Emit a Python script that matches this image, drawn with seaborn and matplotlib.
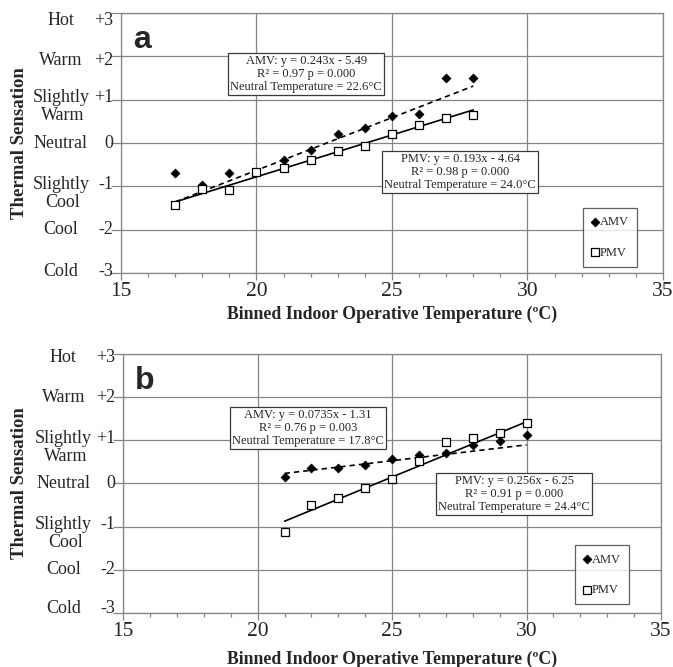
import numpy as np
import pandas as pd
import matplotlib
matplotlib.use("Agg")
import matplotlib.pyplot as plt
from matplotlib.transforms import offset_copy
from matplotlib.ticker import MultipleLocator
import seaborn as sns

# ---- data -------------------------------------------------------------
# Panel a: binned indoor operative temperature (°C) and mean votes
amv_temp_a = [17, 18, 19, 21, 22, 23, 24, 25, 26, 27, 28]
amv_a = [-0.70, -0.97, -0.70, -0.39, -0.16, 0.20, 0.35, 0.63, 0.68, 1.51, 1.51]
pmv_temp_a = [17, 18, 19, 20, 21, 22, 23, 24, 25, 26, 27, 28]
pmv_a = [-1.43, -1.07, -1.08, -0.68, -0.57, -0.39, -0.18, -0.07, 0.21, 0.42, 0.58, 0.65]

# Panel b
amv_temp_b = [21, 22, 23, 24, 25, 26, 27, 28, 29, 30]
amv_b = [0.16, 0.37, 0.35, 0.43, 0.56, 0.66, 0.70, 0.89, 0.99, 1.12]
pmv_temp_b = [21, 22, 23, 24, 25, 26, 27, 28, 29, 30]
pmv_b = [-1.13, -0.51, -0.34, -0.11, 0.10, 0.52, 0.97, 1.06, 1.16, 1.41]

# Linear fits (AMV, PMV) per panel
slope_a = [0.243, 0.193]
intercept_a = [-5.49, -4.64]
r2_a = [0.97, 0.98]
p_a = ["0.000", "0.000"]
neutral_a = [22.6, 24.0]

slope_b = [0.0735, 0.256]
intercept_b = [-1.31, -6.25]
r2_b = [0.76, 0.91]
p_b = ["0.003", "0.000"]
neutral_b = [17.8, 24.4]

series_names = ["AMV", "PMV"]

# Thermal sensation scale
scale_values = [-3, -2, -1, 0, 1, 2, 3]
scale_numbers = ["-3", "-2", "-1", "0", "+1", "+2", "+3"]
scale_words_top = ["Cold", "Cool", "Slightly", "Neutral", "Slightly", "Warm", "Hot"]
scale_words_bottom = ["", "", "Cool", "", "Warm", "", ""]

x_ticks = [15, 20, 25, 30, 35]

# ---- style ------------------------------------------------------------
sns.set_theme(style="white")
plt.rcParams["font.family"] = ["Liberation Serif", "DejaVu Serif"]
GRID = "#858585"
BOX = "#3a3a3a"

fig = plt.figure(figsize=(6.73, 6.67), dpi=100)
ax_a = fig.add_axes([0.1798, 0.5907, 0.8053, 0.3898])
ax_b = fig.add_axes([0.1832, 0.0810, 0.7990, 0.3883])


def fit_text(name, slope, intercept, r2, p, tn):
    sign = "-" if intercept < 0 else "+"
    return (f"{name}: y = {slope}x {sign} {abs(intercept):.2f}\n"
            f"R\u00b2 = {r2:.2f} p = {p}\n"
            f"Neutral Temperature = {tn:.1f}\u00b0C")


def draw_panel(ax, letter, amv_t, amv_v, pmv_t, pmv_v, slopes, intercepts,
               r2s, ps, tns, box_pos, legend_anchor, label_nudge,
               xlabel_y, ylabel_x):
    amv_df = pd.DataFrame({"temp": amv_t, "vote": amv_v})
    pmv_df = pd.DataFrame({"temp": pmv_t, "vote": pmv_v})

    # regression lines over each series' temperature range
    for df, slope, icpt, ls in [(amv_df, slopes[0], intercepts[0], (0, (3.2, 2.4))),
                                 (pmv_df, slopes[1], intercepts[1], "-")]:
        xs = np.array([df["temp"].min(), df["temp"].max()], dtype=float)
        line_df = pd.DataFrame({"temp": xs, "vote": slope * xs + icpt})
        sns.lineplot(data=line_df, x="temp", y="vote", ax=ax, color="black",
                     lw=1.2, linestyle=ls, zorder=3, legend=False)

    sns.scatterplot(data=amv_df, x="temp", y="vote", ax=ax, marker="D", s=20,
                    color="black", edgecolor="black", linewidth=0.6,
                    zorder=4, label="AMV")
    sns.scatterplot(data=pmv_df, x="temp", y="vote", ax=ax, marker="s", s=26,
                    facecolor="white", edgecolor="black", linewidth=0.9,
                    zorder=5, label="PMV")

    ax.set_xlim(15, 35)
    ax.set_ylim(-3, 3)
    ax.set_xticks(x_ticks)
    ax.xaxis.set_minor_locator(MultipleLocator(1))
    ax.set_yticks(scale_values, [""] * len(scale_values))
    ax.grid(True, which="major", color=GRID, lw=0.9)
    for sp in ax.spines.values():
        sp.set_color(GRID)
        sp.set_linewidth(0.9)
    ax.tick_params(axis="x", which="major", direction="out", length=5,
                   width=0.9, color=GRID, labelsize=15.5, pad=1.5, bottom=True)
    ax.tick_params(axis="x", which="minor", direction="out", length=3,
                   width=0.9, color=GRID, bottom=True)
    ax.tick_params(axis="y", which="major", direction="out", length=7,
                   width=0.9, color=GRID, left=True)

    # numeric scale plus sensation words (two-line words sit a little higher)
    for v, num, w1, w2, dy in zip(scale_values, scale_numbers, scale_words_top,
                                  scale_words_bottom, label_nudge):
        lift = 2 if w2 else 0
        tr_num = offset_copy(ax.get_yaxis_transform(), fig=fig, x=-8, y=dy + lift, units="dots")
        tr_top = offset_copy(ax.get_yaxis_transform(), fig=fig, x=-60, y=dy + lift, units="dots")
        tr_bot = offset_copy(ax.get_yaxis_transform(), fig=fig, x=-58, y=dy - 16, units="dots")
        ax.text(0, v, num, transform=tr_num, ha="right", va="center", fontsize=13)
        ax.text(0, v, w1, transform=tr_top, ha="center", va="center", fontsize=13)
        if w2:
            ax.text(0, v, w2, transform=tr_bot, ha="center", va="center", fontsize=13)

    ax.set_xlabel("Binned Indoor Operative Temperature (\u00baC)",
                  fontsize=12.8, fontweight="bold")
    ax.xaxis.set_label_coords(0.5, xlabel_y)
    ax.set_ylabel("Thermal Sensation", fontsize=13.5, fontweight="bold")
    ax.yaxis.set_label_coords(ylabel_x, 0.5)

    ax.text(0.022, 0.955, letter, transform=ax.transAxes, ha="left", va="top",
            fontsize=23, fontweight="bold", family="Liberation Sans")

    for i in range(2):
        ax.text(box_pos[i][0], box_pos[i][1],
                fit_text(series_names[i], slopes[i], intercepts[i], r2s[i], ps[i], tns[i]),
                ha="center", va="center", fontsize=9, linespacing=1.1,
                multialignment="center", zorder=6,
                bbox=dict(boxstyle="square,pad=0.18", facecolor="white",
                          edgecolor=BOX, linewidth=0.9))

    leg = ax.legend(loc="center", bbox_to_anchor=legend_anchor, frameon=True,
                    fancybox=False, edgecolor=BOX, fontsize=9,
                    handlelength=0.6, handletextpad=0.1, labelspacing=1.5,
                    borderpad=0.65, borderaxespad=0)
    leg.get_frame().set_linewidth(0.9)


draw_panel(ax_a, "a", amv_temp_a, amv_a, pmv_temp_a, pmv_a, slope_a, intercept_a,
           r2_a, p_a, neutral_a, box_pos=[(21.84, 1.59), (27.51, -0.67)],
           legend_anchor=(0.902, 0.137), label_nudge=[2, 0, 0, 0, 0, -4, -7],
           xlabel_y=-0.126, ylabel_x=-0.172)
draw_panel(ax_b, "b", amv_temp_b, amv_b, pmv_temp_b, pmv_b, slope_b, intercept_b,
           r2_b, p_b, neutral_b, box_pos=[(21.86, 1.28), (29.54, -0.25)],
           legend_anchor=(0.890, 0.147), label_nudge=[4, 0, 0, 0, 0, 0, -4],
           xlabel_y=-0.145, ylabel_x=-0.177)

fig.savefig("out.png", dpi=100)
